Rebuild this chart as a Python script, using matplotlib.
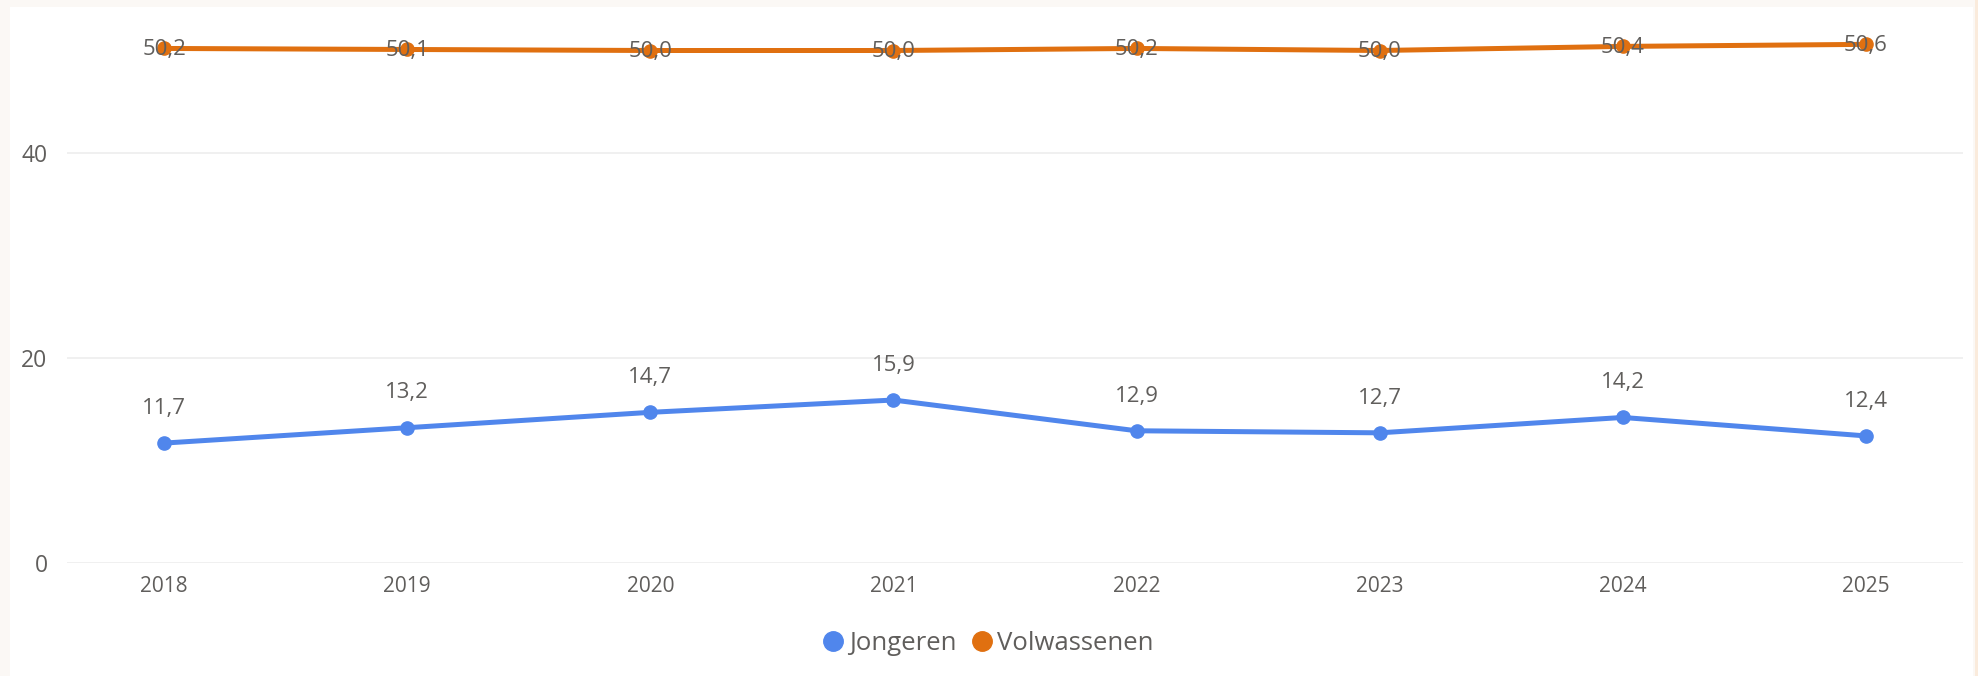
import matplotlib
matplotlib.use("Agg")
import matplotlib.pyplot as plt
from matplotlib.patches import Rectangle
from matplotlib.lines import Line2D

plt.rcParams['font.family'] = ['Open Sans', 'DejaVu Sans']

years = ['2018', '2019', '2020', '2021', '2022', '2023', '2024', '2025']
jongeren = [11.7, 13.2, 14.7, 15.9, 12.9, 12.7, 14.2, 12.4]
volwassenen = [50.2, 50.1, 50.0, 50.0, 50.2, 50.0, 50.4, 50.6]
yticks = [0, 20, 40]

blue = '#5086EC'
orange = '#E07010'
grey = '#605E5C'

W, H = 1978, 676
fig = plt.figure(figsize=(W / 100, H / 100), dpi=100)
fig.patch.set_facecolor('#FBF8F5')

# white card + beige strip on the right
fig.add_artist(Rectangle((10 / W, 0), (1973 - 10) / W, 1 - 7 / H,
                         transform=fig.transFigure, facecolor='white',
                         edgecolor='none', zorder=0))
fig.add_artist(Rectangle((1975 / W, 0), 3 / W, 1,
                         transform=fig.transFigure, facecolor='#FAEBDC',
                         edgecolor='none', zorder=0))

# axes: x from 67 to 1963 px, y from 563 (value 0) to 30 px
left, right = 67, 1963
bottom, top = 563, 30
ax = fig.add_axes([left / W, 1 - bottom / H, (right - left) / W, (bottom - top) / H])
ax.set_facecolor('none')

x = list(range(len(years)))
ax.plot(x, jongeren, color=blue, lw=3.6, marker='o', ms=9.5, solid_capstyle='round', zorder=3)
ax.plot(x, volwassenen, color=orange, lw=3.6, marker='o', ms=9.5, solid_capstyle='round', zorder=3)

for xi, v in zip(x, jongeren):
    ax.annotate(f'{v:.1f}'.replace('.', ','), (xi, v), textcoords='offset points',
                xytext=(0, 25), ha='center', va='center', fontsize=16, color=grey, zorder=4)
for xi, v in zip(x, volwassenen):
    ax.annotate(f'{v:.1f}'.replace('.', ','), (xi, v), textcoords='offset points',
                xytext=(0, -1), ha='center', va='center', fontsize=16, color=grey, zorder=4)

ax.set_xlim(-0.4, len(years) - 1 + 0.4)
ax.set_ylim(0, (bottom - top) / 10.25)
ax.set_xticks(x)
ax.set_xticklabels(years, fontsize=15, color=grey)
ax.set_yticks(yticks)
ax.set_yticklabels([str(t) for t in yticks], fontsize=16.5, color=grey)
ax.tick_params(length=0)
ax.tick_params(axis='x', pad=9)
ax.tick_params(axis='y', pad=14)
ax.grid(axis='y', color='#EDEDED', lw=1.2)
ax.set_axisbelow(True)
for s in ax.spines.values():
    s.set_visible(False)

handles = [Line2D([], [], ls='none', marker='o', ms=14, color=blue),
           Line2D([], [], ls='none', marker='o', ms=14, color=orange)]
fig.legend(handles, ['Jongeren', 'Volwassenen'], loc='center',
           bbox_to_anchor=(986 / W, 1 - 643 / H), ncol=2, frameon=False,
           fontsize=18.5, labelcolor=grey, handletextpad=0.0, columnspacing=0.4,
           handlelength=1.2)

fig.savefig('out.png', dpi=100, facecolor=fig.get_facecolor())
